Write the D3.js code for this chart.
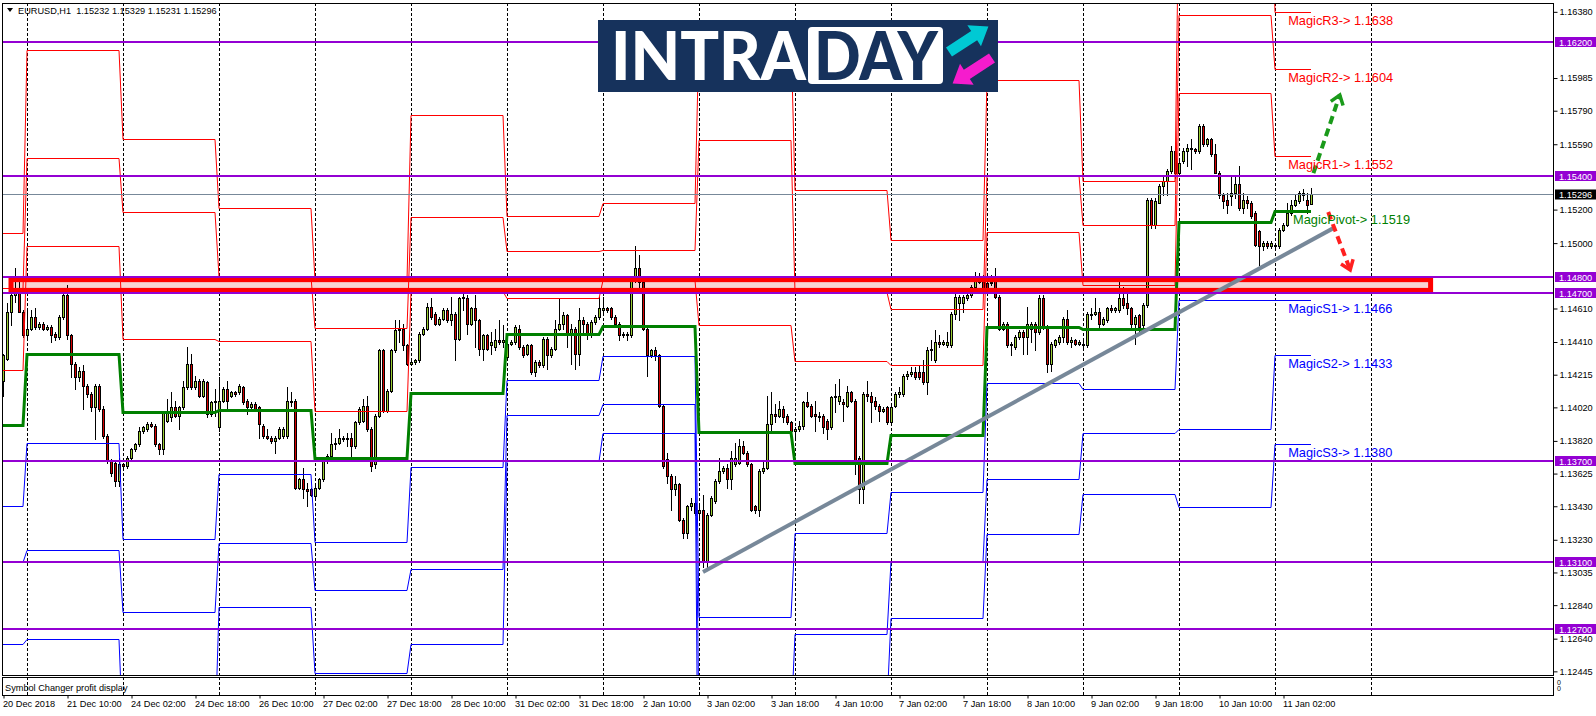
<!DOCTYPE html>
<html><head><meta charset="utf-8">
<script src="https://cdn.jsdelivr.net/npm/d3@7"></script>
<style>
html,body{margin:0;padding:0;background:#fff;}
svg{display:block;}
text{font-family:"Liberation Sans",Arial,sans-serif;}
</style></head><body>
<svg id="c" width="1596" height="716"></svg>
<script>
// ---------------- DATA ----------------
const symbolTitle = "EURUSD,H1  1.15232 1.15329 1.15231 1.15296";
const openP = [
1.1418,1.1431,1.1459,1.1469,1.1473,1.1459,1.1445,1.1449,1.1456,1.1450,
1.1452,1.1449,1.1450,1.1446,1.1444,1.1456,1.1469,1.1445,1.1428,1.1420,
1.1424,1.1415,1.1410,1.1402,1.1415,1.1401,1.1385,1.1370,1.1369,1.1358,
1.1368,1.1367,1.1372,1.1377,1.1380,1.1388,1.1389,1.1392,1.1391,1.1380,
1.1377,1.1394,1.1396,1.1402,1.1397,1.1402,1.1414,1.1428,1.1414,1.1418,
1.1409,1.1417,1.1398,1.1405,1.1390,1.1406,1.1413,1.1409,1.1411,1.1411,
1.1414,1.1406,1.1402,1.1404,1.1402,1.1391,1.1385,1.1384,1.1382,1.1384,
1.1385,1.1385,1.1406,1.1406,1.1354,1.1359,1.1353,1.1353,1.1349,1.1354,
1.1359,1.1370,1.1373,1.1380,1.1381,1.1384,1.1383,1.1384,1.1379,1.1393,
1.1394,1.1403,1.1389,1.1368,1.1397,1.1436,1.1400,1.1412,1.1436,1.1448,
1.1449,1.1439,1.1428,1.1429,1.1430,1.1446,1.1449,1.1462,1.1458,1.1452,
1.1455,1.1460,1.1454,1.1458,1.1443,1.1467,1.1467,1.1452,1.1461,1.1454,
1.1437,1.1445,1.1439,1.1438,1.1442,1.1441,1.1432,1.1440,1.1441,1.1449,
1.1438,1.1434,1.1439,1.1423,1.1429,1.1427,1.1443,1.1433,1.1437,1.1449,
1.1452,1.1457,1.1445,1.1449,1.1434,1.1454,1.1452,1.1445,1.1453,1.1456,
1.1460,1.1461,1.1461,1.1456,1.1452,1.1445,1.1446,1.1445,1.1478,1.1485,
1.1477,1.1449,1.1433,1.1436,1.1433,1.1403,1.1371,1.1361,1.1353,1.1356,
1.1335,1.1327,1.1343,1.1345,1.1339,1.1341,1.1310,1.1338,1.1346,1.1358,
1.1364,1.1366,1.1359,1.1368,1.1369,1.1379,1.1375,1.1368,1.1343,1.1341,
1.1364,1.1366,1.1392,1.1398,1.1397,1.1401,1.1397,1.1393,1.1388,1.1389,
1.1391,1.1405,1.1403,1.1398,1.1397,1.1397,1.1394,1.1390,1.1408,1.1406,
1.1405,1.1403,1.1411,1.1406,1.1372,1.1353,1.1410,1.1409,1.1406,1.1403,
1.1400,1.1402,1.1393,1.1403,1.1410,1.1410,1.1421,1.1422,1.1423,1.1423,
1.1423,1.1417,1.1436,1.1430,1.1441,1.1440,1.1439,1.1439,1.1458,1.1464,
1.1464,1.1467,1.1469,1.1474,1.1478,1.1477,1.1476,1.1476,1.1480,1.1468,
1.1449,1.1452,1.1439,1.1438,1.1444,1.1447,1.1444,1.1449,1.1452,1.1447,
1.1467,1.1450,1.1428,1.1439,1.1441,1.1444,1.1455,1.1441,1.1442,1.1440,
1.1440,1.1439,1.1457,1.1458,1.1459,1.1452,1.1454,1.1461,1.1460,1.1460,
1.1467,1.1464,1.1461,1.1452,1.1457,1.1451,1.1463,1.1526,1.1511,1.1524,
1.1534,1.1537,1.1543,1.1555,1.1542,1.1549,1.1555,1.1557,1.1556,1.1555,
1.1570,1.1559,1.1562,1.1553,1.1542,1.1529,1.1526,1.1528,1.1530,1.1535,
1.1521,1.1526,1.1524,1.1518,1.1507,1.1498,1.1500,1.1498,1.1499,1.1498,
1.1508,1.1511,1.1518,1.1523,1.1525,1.1529,1.1526,1.15232];
const highP = [
1.1434,1.1464,1.1476,1.1485,1.1477,1.1460,1.1460,1.1460,1.1461,1.1453,
1.1453,1.1451,1.1451,1.1447,1.1457,1.1473,1.1475,1.1446,1.1429,1.1426,
1.1427,1.1416,1.1411,1.1416,1.1416,1.1403,1.1386,1.1371,1.1370,1.1372,
1.1369,1.1373,1.1378,1.1381,1.1390,1.1391,1.1393,1.1393,1.1392,1.1381,
1.1400,1.1407,1.1411,1.1406,1.1403,1.1418,1.1438,1.1434,1.1421,1.1419,
1.1419,1.1418,1.1406,1.1413,1.1420,1.1414,1.1418,1.1412,1.1412,1.1416,
1.1415,1.1407,1.1405,1.1405,1.1403,1.1392,1.1389,1.1385,1.1385,1.1390,
1.1390,1.1414,1.1411,1.1407,1.1360,1.1366,1.1357,1.1354,1.1355,1.1360,
1.1371,1.1374,1.1387,1.1384,1.1389,1.1385,1.1387,1.1387,1.1394,1.1402,
1.1407,1.1409,1.1390,1.1398,1.1437,1.1437,1.1413,1.1437,1.1454,1.1454,
1.1452,1.1440,1.1430,1.1431,1.1447,1.1450,1.1464,1.1467,1.1459,1.1456,
1.1461,1.1461,1.1468,1.1459,1.1468,1.1473,1.1469,1.1462,1.1469,1.1455,
1.1446,1.1446,1.1447,1.1449,1.1454,1.1451,1.1441,1.1442,1.1451,1.1451,
1.1439,1.1440,1.1440,1.1430,1.1430,1.1444,1.1444,1.1438,1.1454,1.1467,
1.1459,1.1458,1.1452,1.1450,1.1461,1.1456,1.1453,1.1454,1.1457,1.1468,
1.1468,1.1462,1.1462,1.1457,1.1453,1.1447,1.1447,1.1479,1.1498,1.1493,
1.1478,1.1450,1.1437,1.1438,1.1434,1.1404,1.1375,1.1362,1.1361,1.1357,
1.1336,1.1344,1.1348,1.1348,1.1345,1.1350,1.1339,1.1349,1.1359,1.1372,
1.1367,1.1368,1.1376,1.1381,1.1383,1.1382,1.1376,1.1369,1.1344,1.1365,
1.1370,1.1409,1.1411,1.1404,1.1406,1.1403,1.1398,1.1394,1.1390,1.1394,
1.1406,1.1411,1.1404,1.1406,1.1399,1.1398,1.1395,1.1409,1.1416,1.1419,
1.1407,1.1415,1.1412,1.1407,1.1373,1.1411,1.1418,1.1411,1.1408,1.1404,
1.1402,1.1403,1.1403,1.1411,1.1414,1.1422,1.1424,1.1426,1.1426,1.1427,
1.1430,1.1438,1.1442,1.1448,1.1445,1.1442,1.1447,1.1459,1.1473,1.1469,
1.1469,1.1470,1.1475,1.1483,1.1482,1.1481,1.1480,1.1481,1.1485,1.1469,
1.1453,1.1453,1.1441,1.1445,1.1448,1.1448,1.1462,1.1453,1.1453,1.1469,
1.1469,1.1451,1.1441,1.1443,1.1445,1.1456,1.1460,1.1444,1.1443,1.1442,
1.1442,1.1459,1.1461,1.1467,1.1461,1.1456,1.1462,1.1463,1.1462,1.1478,
1.1474,1.1470,1.1462,1.1457,1.1458,1.1464,1.1527,1.1527,1.1527,1.1535,
1.1540,1.1544,1.1558,1.1560,1.1549,1.1557,1.1559,1.1562,1.1557,1.1571,
1.1571,1.1563,1.1563,1.1559,1.1543,1.1530,1.1530,1.1540,1.1540,1.1546,
1.1530,1.1528,1.1525,1.1519,1.1508,1.1501,1.1501,1.1501,1.1500,1.1509,
1.1512,1.1524,1.1526,1.1529,1.1531,1.1532,1.1530,1.15329];
const lowP = [
1.1409,1.1430,1.1451,1.1465,1.1459,1.1444,1.1443,1.1448,1.1449,1.1449,
1.1448,1.1448,1.1441,1.1442,1.1443,1.1455,1.1443,1.1420,1.1413,1.1418,
1.1401,1.1408,1.1400,1.1383,1.1400,1.1384,1.1369,1.1361,1.1355,1.1355,
1.1365,1.1366,1.1371,1.1376,1.1379,1.1387,1.1388,1.1390,1.1379,1.1374,
1.1374,1.1393,1.1394,1.1396,1.1389,1.1401,1.1413,1.1413,1.1413,1.1408,
1.1408,1.1396,1.1397,1.1397,1.1388,1.1405,1.1401,1.1408,1.1409,1.1410,
1.1404,1.1398,1.1401,1.1400,1.1384,1.1384,1.1383,1.1381,1.1375,1.1383,
1.1384,1.1384,1.1403,1.1353,1.1353,1.1348,1.1343,1.1349,1.1348,1.1353,
1.1358,1.1369,1.1372,1.1377,1.1380,1.1382,1.1379,1.1371,1.1378,1.1392,
1.1393,1.1388,1.1364,1.1366,1.1396,1.1399,1.1399,1.1411,1.1435,1.1441,
1.1436,1.1427,1.1427,1.1428,1.1429,1.1445,1.1448,1.1455,1.1451,1.1451,
1.1454,1.1453,1.1451,1.1430,1.1442,1.1460,1.1446,1.1451,1.1438,1.1433,
1.1430,1.1436,1.1434,1.1436,1.1440,1.1438,1.1431,1.1439,1.1440,1.1437,
1.1432,1.1433,1.1422,1.1421,1.1426,1.1426,1.1425,1.1432,1.1436,1.1448,
1.1449,1.1438,1.1428,1.1425,1.1427,1.1446,1.1443,1.1444,1.1452,1.1455,
1.1459,1.1459,1.1455,1.1451,1.1442,1.1444,1.1442,1.1444,1.1477,1.1474,
1.1448,1.1421,1.1432,1.1430,1.1402,1.1366,1.1357,1.1341,1.1350,1.1334,
1.1324,1.1324,1.1341,1.1338,1.1335,1.1307,1.1307,1.1337,1.1345,1.1357,
1.1363,1.1354,1.1353,1.1367,1.1368,1.1374,1.1367,1.1340,1.1339,1.1337,
1.1363,1.1365,1.1387,1.1393,1.1396,1.1393,1.1392,1.1387,1.1384,1.1388,
1.1389,1.1402,1.1396,1.1388,1.1394,1.1387,1.1383,1.1389,1.1399,1.1404,
1.1394,1.1402,1.1405,1.1362,1.1345,1.1345,1.1406,1.1393,1.1401,1.1394,
1.1399,1.1392,1.1392,1.1402,1.1408,1.1409,1.1419,1.1421,1.1419,1.1419,
1.1416,1.1410,1.1430,1.1429,1.1438,1.1439,1.1438,1.1438,1.1455,1.1454,
1.1459,1.1466,1.1468,1.1473,1.1476,1.1472,1.1469,1.1475,1.1467,1.1448,
1.1448,1.1438,1.1433,1.1437,1.1443,1.1434,1.1434,1.1441,1.1436,1.1446,
1.1449,1.1423,1.1424,1.1438,1.1440,1.1441,1.1440,1.1438,1.1439,1.1439,
1.1437,1.1438,1.1455,1.1457,1.1450,1.1451,1.1453,1.1459,1.1459,1.1459,
1.1461,1.1458,1.1449,1.1440,1.1447,1.1450,1.1462,1.1509,1.1509,1.1524,
1.1529,1.1529,1.1542,1.1539,1.1541,1.1548,1.1546,1.1544,1.1554,1.1554,
1.1558,1.1558,1.1552,1.1542,1.1527,1.1521,1.1518,1.1523,1.1527,1.1520,
1.1518,1.1521,1.1515,1.1498,1.1487,1.1496,1.1497,1.1497,1.1496,1.1497,
1.1507,1.1510,1.1517,1.1522,1.1524,1.1526,1.1518,1.15231];
const closeP = [
1.1433,1.1459,1.1469,1.1472,1.1459,1.1445,1.1449,1.1456,1.1450,1.1452,
1.1449,1.1450,1.1445,1.1444,1.1456,1.1469,1.1445,1.1428,1.1420,1.1424,
1.1415,1.1410,1.1402,1.1415,1.1401,1.1385,1.1370,1.1363,1.1358,1.1368,
1.1367,1.1372,1.1377,1.1380,1.1388,1.1390,1.1392,1.1391,1.1380,1.1377,
1.1399,1.1399,1.1402,1.1397,1.1402,1.1414,1.1428,1.1414,1.1418,1.1409,
1.1418,1.1398,1.1405,1.1406,1.1406,1.1413,1.1406,1.1411,1.1410,1.1415,
1.1405,1.1402,1.1404,1.1401,1.1392,1.1385,1.1384,1.1382,1.1384,1.1389,
1.1389,1.1406,1.1405,1.1354,1.1359,1.1353,1.1352,1.1350,1.1354,1.1359,
1.1370,1.1373,1.1380,1.1381,1.1384,1.1383,1.1384,1.1379,1.1393,1.1401,
1.1403,1.1389,1.1367,1.1397,1.1436,1.1400,1.1412,1.1436,1.1448,1.1449,
1.1439,1.1428,1.1429,1.1430,1.1446,1.1449,1.1462,1.1456,1.1452,1.1455,
1.1460,1.1454,1.1458,1.1443,1.1467,1.1468,1.1452,1.1461,1.1454,1.1437,
1.1445,1.1437,1.1441,1.1442,1.1441,1.1442,1.1440,1.1441,1.1450,1.1438,
1.1433,1.1439,1.1423,1.1429,1.1427,1.1443,1.1433,1.1437,1.1449,1.1452,
1.1457,1.1445,1.1449,1.1434,1.1454,1.1452,1.1445,1.1453,1.1456,1.1461,
1.1461,1.1460,1.1456,1.1452,1.1445,1.1446,1.1445,1.1478,1.1485,1.1477,
1.1449,1.1433,1.1436,1.1433,1.1403,1.1367,1.1361,1.1353,1.1356,1.1335,
1.1327,1.1343,1.1345,1.1339,1.1341,1.1310,1.1338,1.1348,1.1358,1.1364,
1.1366,1.1359,1.1372,1.1372,1.1379,1.1375,1.1368,1.1341,1.1341,1.1364,
1.1366,1.1392,1.1398,1.1397,1.1401,1.1396,1.1393,1.1388,1.1389,1.1391,
1.1405,1.1403,1.1397,1.1397,1.1396,1.1390,1.1389,1.1408,1.1409,1.1409,
1.1404,1.1411,1.1406,1.1370,1.1353,1.1410,1.1409,1.1405,1.1403,1.1400,
1.1401,1.1393,1.1402,1.1410,1.1411,1.1421,1.1422,1.1423,1.1420,1.1420,
1.1417,1.1436,1.1437,1.1441,1.1440,1.1441,1.1441,1.1458,1.1468,1.1468,
1.1468,1.1469,1.1474,1.1478,1.1477,1.1473,1.1473,1.1477,1.1468,1.1449,
1.1452,1.1439,1.1440,1.1444,1.1447,1.1444,1.1452,1.1452,1.1447,1.1467,
1.1450,1.1428,1.1440,1.1442,1.1444,1.1455,1.1441,1.1442,1.1440,1.1441,
1.1439,1.1458,1.1458,1.1459,1.1452,1.1455,1.1461,1.1460,1.1461,1.1467,
1.1463,1.1461,1.1452,1.1456,1.1450,1.1463,1.1526,1.1511,1.1525,1.1534,
1.1537,1.1543,1.1555,1.1542,1.1548,1.1555,1.1557,1.1556,1.1555,1.1570,
1.1559,1.1562,1.1553,1.1542,1.1529,1.1525,1.1523,1.1530,1.1535,1.1521,
1.1526,1.1524,1.1516,1.1499,1.1498,1.1500,1.1498,1.1500,1.1498,1.1508,
1.1511,1.1518,1.1523,1.1526,1.1530,1.1530,1.1523,1.15296];

// first bar of each trading day (20 Dec partial ... 11 Jan)
const dayStartBars = [0,6,30,54,78,102,126,150,174,198,222,246,270,294,318];
const nextDayBar = 342;
// daily Magic pivot levels
const pivotLv = [1.13917,1.14338,1.13994,1.14007,1.13715,1.14108,1.14460,1.14504,1.13873,1.13689,1.13857,1.14498,1.14486,1.15127,1.1519];
const r1Lv = [1.14245,1.14982,1.14429,1.14416,1.13999,1.14713,1.14674,1.14780,1.14511,1.14297,1.14271,1.15065,1.14749,1.15895,1.1552];
const r2Lv = [1.14731,1.15507,1.15184,1.14801,1.14491,1.15155,1.14954,1.14959,1.15616,1.14710,1.14607,1.15404,1.15111,1.16360,1.1604];
const r3Lv = [1.15060,1.16153,1.15621,1.15210,1.14778,1.15766,1.15163,1.15241,1.16252,1.15318,1.15021,1.15972,1.15370,1.17134,1.1638];
const s1Lv = [1.13430,1.13808,1.13236,1.13622,1.13218,1.13663,1.14186,1.14325,1.12771,1.13273,1.13516,1.14167,1.14129,1.14661,1.1466];
const s2Lv = [1.13099,1.13167,1.12799,1.13213,1.12931,1.13058,1.13973,1.14041,1.12132,1.12665,1.13102,1.13593,1.13865,1.13891,1.1433];
const s3Lv = [1.12611,1.12637,1.12044,1.12830,1.12435,1.12611,1.13702,1.13870,1.11030,1.12246,1.12766,1.13262,1.13505,1.13425,1.1380];

const levelLabels = ["MagicR3-> 1.1638","MagicR2-> 1.1604","MagicR1-> 1.1552","MagicPivot-> 1.1519","MagicS1-> 1.1466","MagicS2-> 1.1433","MagicS3-> 1.1380"];
const levelLabelPrices = [1.1638,1.1604,1.1552,1.1519,1.1466,1.1433,1.1380];
const levelLabelColors = ["#ff0000","#ff0000","#ff0000","#008000","#0000ff","#0000ff","#0000ff"];
const levelLabelBars = [321.3,321.3,321.3,322.5,321.3,321.3,321.3];

const hLevels = [1.162,1.154,1.148,1.147,1.137,1.131,1.127];
const hLevelText = ["1.16200","1.15400","1.14800","1.14700","1.13700","1.13100","1.12700"];
const lastPrice = 1.15296;
const priceTicks = [1.16380,1.15985,1.15790,1.15590,1.15200,1.15000,1.14610,1.14410,1.14215,1.14020,1.13820,1.13625,1.13430,1.13230,1.13035,1.12840,1.12640,1.12445];
const timeLabels = ["20 Dec 2018","21 Dec 10:00","24 Dec 02:00","24 Dec 18:00","26 Dec 10:00","27 Dec 02:00","27 Dec 18:00","28 Dec 10:00","31 Dec 02:00","31 Dec 18:00","2 Jan 10:00","3 Jan 02:00","3 Jan 18:00","4 Jan 10:00","7 Jan 02:00","7 Jan 18:00","8 Jan 10:00","9 Jan 02:00","9 Jan 18:00","10 Jan 10:00","11 Jan 02:00"];
const timeLabelBars = [0,16,32,48,64,80,96,112,128,144,160,176,192,208,224,240,256,272,288,304,320];

// drawn objects (bar index, price)
const zoneBox = {bar0:1.5, bar1:357.4, top:1.1480, bottom:1.1470};
const trendPts = [[175,1.13038],[332.5,1.15088]];
const upArrow = [[327.6,1.15418],[334.2,1.15884]];
const downArrow = [[331.3,1.15186],[336.8,1.14840]];

// ---------------- SCALES ----------------
const PL=2, PR=1553, PT=3, PB=675;
const x = d3.scaleLinear().domain([0,327]).range([3,1311]);
const y = d3.scaleLinear().domain([1.124232,1.164327]).range([675,3]);
const svg = d3.select('#c');
const defs = svg.append('defs');
defs.append('clipPath').attr('id','clipMain').append('rect')
  .attr('x',PL).attr('y',PT).attr('width',PR-PL).attr('height',PB-PT);

const bars = d3.range(openP.length);
const dayOf = i => d3.bisectRight(dayStartBars, i) - 1;
const ry = v => Math.round(y(v));

// ---------------- GRID ----------------
const gridBars = dayStartBars.slice(1).concat([nextDayBar]);
const gGrid = svg.append('g');
gridBars.forEach(b=>{
  const gx = Math.round(x(b))+0.5;
  gGrid.append('line').attr('x1',gx).attr('x2',gx).attr('y1',PT).attr('y2',PB)
    .attr('stroke','#000').attr('stroke-width',1).attr('stroke-dasharray','3,2');
  gGrid.append('line').attr('x1',gx).attr('x2',gx).attr('y1',677).attr('y2',695)
    .attr('stroke','#000').attr('stroke-width',1).attr('stroke-dasharray','3,2');
});

const main = svg.append('g').attr('clip-path','url(#clipMain)');

// zone fill (background)
main.append('rect')
  .attr('x',x(zoneBox.bar0)).attr('y',y(zoneBox.top))
  .attr('width',x(zoneBox.bar1)-x(zoneBox.bar0)).attr('height',y(zoneBox.bottom)-y(zoneBox.top))
  .attr('fill','#f7d3d3');

// ---------------- CANDLES ----------------
const gC = main.append('g');
bars.forEach(i=>{
  const cx = Math.round(x(i));
  const o=openP[i], h=highP[i], l=lowP[i], c=closeP[i];
  gC.append('line').attr('x1',cx+0.5).attr('x2',cx+0.5).attr('y1',ry(h)).attr('y2',ry(l)+1)
    .attr('stroke','#000').attr('stroke-width',1);
  const top = ry(Math.max(o,c)), bot = ry(Math.min(o,c));
  if (bot-top < 1) {
    gC.append('line').attr('x1',cx-1).attr('x2',cx+2).attr('y1',top+0.5).attr('y2',top+0.5)
      .attr('stroke','#000').attr('stroke-width',1);
  } else {
    gC.append('rect').attr('x',cx-0.5).attr('y',top+0.5).attr('width',2).attr('height',bot-top)
      .attr('fill', c>=o ? '#9acd32' : '#d40000').attr('stroke','#000').attr('stroke-width',1);
  }
});

// ---------------- PIVOT LINES ----------------
const pivotSeries = [
  {arr:r3Lv,color:'#ff0000',w:1},{arr:r2Lv,color:'#ff0000',w:1},{arr:r1Lv,color:'#ff0000',w:1},
  {arr:s1Lv,color:'#0000ff',w:1},{arr:s2Lv,color:'#0000ff',w:1},{arr:s3Lv,color:'#0000ff',w:1},
  {arr:pivotLv,color:'#008000',w:3}
];
pivotSeries.forEach(s=>{
  const ln = d3.line().x(i=>x(i)).y(i=>ry(s.arr[dayOf(i)])+0.5);
  main.append('path').attr('d',ln(bars)).attr('fill','none')
    .attr('stroke',s.color).attr('stroke-width',s.w);
});

// ---------------- HORIZONTAL LEVELS ----------------
hLevels.forEach(p=>{
  svg.append('line').attr('x1',PL).attr('x2',PR).attr('y1',ry(p)).attr('y2',ry(p))
    .attr('stroke','#9400d3').attr('stroke-width',2);
});
svg.append('line').attr('x1',PL).attr('x2',PR).attr('y1',ry(lastPrice)+0.5).attr('y2',ry(lastPrice)+0.5)
  .attr('stroke','#778899').attr('stroke-width',1);

// zone outline
main.append('rect')
  .attr('x',x(zoneBox.bar0)+2).attr('y',y(zoneBox.top)+3)
  .attr('width',x(zoneBox.bar1)-x(zoneBox.bar0)-4).attr('height',y(zoneBox.bottom)-y(zoneBox.top)-6)
  .attr('fill','none').attr('stroke','#ff0000').attr('stroke-width',5);

// trend line
main.append('path').attr('d',d3.line().x(d=>x(d[0])).y(d=>y(d[1]))(trendPts))
  .attr('stroke','#778899').attr('stroke-width',4).attr('fill','none');

// dashed arrows
function dashedArrow(pts,color){
  const p0=[x(pts[0][0]),y(pts[0][1])], p1=[x(pts[1][0]),y(pts[1][1])];
  svg.append('line').attr('x1',p0[0]).attr('y1',p0[1]).attr('x2',p1[0]).attr('y2',p1[1])
    .attr('stroke',color).attr('stroke-width',4).attr('stroke-dasharray','8,5');
  const a = Math.atan2(p1[1]-p0[1], p1[0]-p0[0]);
  const L=11, d=Math.PI*0.8;
  const q1=[p1[0]+L*Math.cos(a+d), p1[1]+L*Math.sin(a+d)];
  const q2=[p1[0]+L*Math.cos(a-d), p1[1]+L*Math.sin(a-d)];
  svg.append('path').attr('d',`M${q1[0]},${q1[1]}L${p1[0]},${p1[1]}L${q2[0]},${q2[1]}`)
    .attr('fill','none').attr('stroke',color).attr('stroke-width',3.5);
}
dashedArrow(upArrow,'#1a9a1a');
dashedArrow(downArrow,'#ff2020');

// level labels
levelLabels.forEach((t,k)=>{
  svg.append('text').attr('x',x(levelLabelBars[k])).attr('y',y(levelLabelPrices[k])+13)
    .attr('fill',levelLabelColors[k]).style('font-size','12.8px').text(t);
});

// ---------------- FRAMES ----------------
svg.append('rect').attr('x',PL+0.5).attr('y',PT+0.5).attr('width',PR-PL).attr('height',PB-PT)
  .attr('fill','none').attr('stroke','#000');
svg.append('rect').attr('x',PL+0.5).attr('y',677.5).attr('width',PR-PL).attr('height',18)
  .attr('fill','none').attr('stroke','#000');
svg.append('text').attr('x',5).attr('y',690.5).style('font-size','9.2px').text('Symbol Changer profit display');
svg.append('text').attr('x',1557).attr('y',685).style('font-size','7px').text('0');
svg.append('text').attr('x',1557).attr('y',691).style('font-size','7px').text('0');

// ---------------- AXES ----------------
const yAxis = d3.axisRight(y).tickValues(priceTicks).tickFormat(d3.format('.5f')).tickSize(4).tickPadding(2);
const gy = svg.append('g').attr('transform',`translate(${PR+0.5},0)`).call(yAxis);
gy.select('.domain').remove();
gy.selectAll('text').style('font-family','"Liberation Sans",Arial,sans-serif').style('font-size','9.2px').attr('fill','#000');
gy.selectAll('line').attr('stroke','#000');

// level price boxes
hLevels.forEach((p,k)=>{
  svg.append('rect').attr('x',1555).attr('y',ry(p)-5).attr('width',41).attr('height',10).attr('fill','#9400d3');
  svg.append('text').attr('x',1559).attr('y',ry(p)+3.5).attr('fill','#fff').style('font-size','9.2px').text(hLevelText[k]);
});
svg.append('rect').attr('x',1555).attr('y',ry(lastPrice)-4.5).attr('width',41).attr('height',10).attr('fill','#000');
svg.append('text').attr('x',1559).attr('y',ry(lastPrice)+4).attr('fill','#fff').style('font-size','9.2px').text(d3.format('.5f')(lastPrice));

const xAxis = d3.axisBottom(x).tickValues(timeLabelBars).tickFormat((d,i)=>timeLabels[i]).tickSize(3).tickPadding(2);
const gx = svg.append('g').attr('transform','translate(0.5,695.5)').call(xAxis);
gx.select('.domain').remove();
gx.selectAll('text').attr('text-anchor','start').attr('x',-1)
  .style('font-family','"Liberation Sans",Arial,sans-serif').style('font-size','9.2px').attr('fill','#000');
gx.selectAll('line').attr('stroke','#000');

// header
svg.append('path').attr('d','M7,8L13,8L10,12Z').attr('fill','#000');
svg.append('text').attr('x',18).attr('y',14).style('font-size','9.2px').attr('xml:space','preserve').text(symbolTitle);

// ---------------- LOGO ----------------
const logo = svg.append('g');
logo.append('rect').attr('x',598).attr('y',20).attr('width',400).attr('height',72).attr('fill','#16325c');
logo.append('text').attr('x',611).attr('y',80).attr('textLength',195).attr('lengthAdjust','spacingAndGlyphs')
  .style('font-family','Lato, Roboto, "Open Sans", sans-serif').style('font-weight','900').style('font-size','66px')
  .attr('fill','#fff').text('INTRA');
logo.append('rect').attr('x',808).attr('y',27).attr('width',135).attr('height',57).attr('rx',4).attr('fill','#fff');
logo.append('text').attr('x',814).attr('y',80).attr('textLength',124).attr('lengthAdjust','spacingAndGlyphs')
  .style('font-family','Lato, Roboto, "Open Sans", sans-serif').style('font-weight','900').style('font-size','66px')
  .attr('fill','#16325c').text('DAY');
function arrowShape(L,sw,hw,hl){
  return `M0,${-sw/2}L${L-hl},${-sw/2}L${L-hl},${-hw/2}L${L},0L${L-hl},${hw/2}L${L-hl},${sw/2}L0,${sw/2}Z`;
}
logo.append('path').attr('d',arrowShape(47,11,25,17)).attr('fill','#00c9d4')
  .attr('transform','translate(949,52) rotate(-33)');
logo.append('path').attr('d',arrowShape(47,11,25,17)).attr('fill','#f51ccd')
  .attr('transform','translate(992,58) rotate(147)');
</script>
</body></html>
